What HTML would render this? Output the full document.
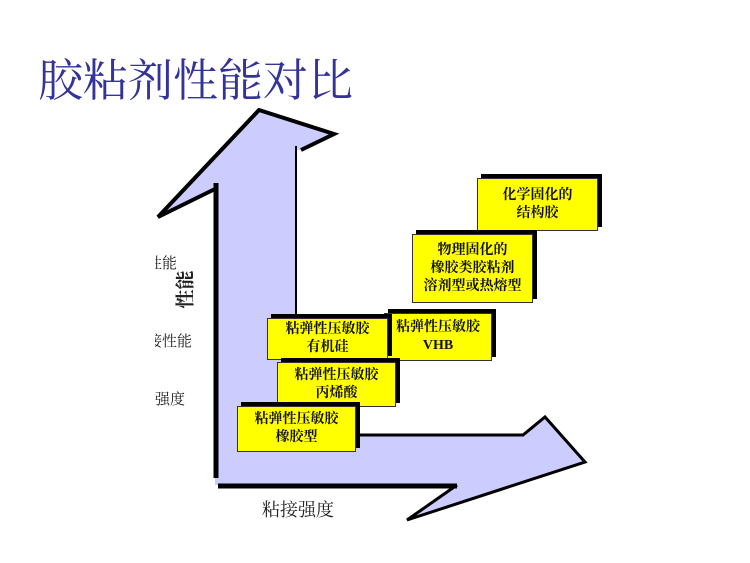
<!DOCTYPE html>
<html><head><meta charset="utf-8"><style>
html,body{margin:0;padding:0;background:#fff;}
body{width:750px;height:563px;position:relative;overflow:hidden;font-family:"Liberation Sans","Noto Sans CJK SC",sans-serif;}
.t{position:absolute;white-space:nowrap;}
.title{left:38px;top:53px;font-size:45px;color:#333399;font-family:"Liberation Serif","Noto Serif CJK SC",serif;letter-spacing:0px;line-height:56px;}
.lbl{font-family:"Liberation Serif","Noto Serif CJK SC",serif;font-size:15px;color:#222;}
.box{position:absolute;background:#ffff00;border:1px solid #333;box-shadow:4px -4px 0 #000;text-align:center;font-weight:bold;font-size:14px;line-height:18px;color:#111;display:flex;flex-direction:column;justify-content:center;font-family:"Liberation Serif","Noto Serif CJK SC",serif;}
</style></head><body>
<div class="t title">胶粘剂性能对比</div>
<svg width="750" height="563" style="position:absolute;left:0;top:0">
  <polygon points="215,188 158,217 259,110 334,134 300,150 296,150 296,435 523,435 545,417 585,462 407,520 457,485 215,485" fill="#ccccff"/>
  <polyline points="301,150 334,134 259,110 158,217 217,188" fill="none" stroke="#000" stroke-width="4" stroke-linejoin="miter"/>
  <line x1="296" y1="146" x2="296" y2="318" stroke="#000" stroke-width="2"/>
  <line x1="216" y1="183" x2="216" y2="478" stroke="#000" stroke-width="5"/>
  <line x1="218" y1="486" x2="457" y2="486" stroke="#000" stroke-width="5"/>
  <polyline points="457,485 407,520 585,462 545,417 523,435 360,435" fill="none" stroke="#000" stroke-width="3"/>
</svg>
<div style="position:absolute;left:155px;top:240px;width:40px;height:180px;overflow:hidden">
  <div class="t lbl" style="left:-8px;top:12px;">性能</div>
  <div class="t lbl" style="left:-8px;top:90px;">接性能</div>
  <div class="t lbl" style="left:0px;top:148px;">强度</div>
</div>
<div class="t lbl" style="left:165px;top:276px;transform:rotate(-90deg);font-size:19px;font-weight:bold;">性能</div>
<div class="t lbl" style="left:262px;top:496px;font-size:18px;">粘接强度</div>
<div class="box" style="left:477px;top:178px;width:119px;height:51px;">化学固化的<br>结构胶</div>
<div class="box" style="left:412px;top:234px;width:119px;height:67px;">物理固化的<br>橡胶类胶粘剂<br>溶剂型或热熔型</div>
<div class="box" style="left:384px;top:313px;width:106px;height:46px;">粘弹性压敏胶<br>VHB</div>
<div class="box" style="left:267px;top:318px;width:119px;height:40px;">粘弹性压敏胶<br>有机硅</div>
<div class="box" style="left:277px;top:362px;width:117px;height:43px;">粘弹性压敏胶<br>丙烯酸</div>
<div class="box" style="left:237px;top:406px;width:117px;height:44px;">粘弹性压敏胶<br>橡胶型</div>
</body></html>
